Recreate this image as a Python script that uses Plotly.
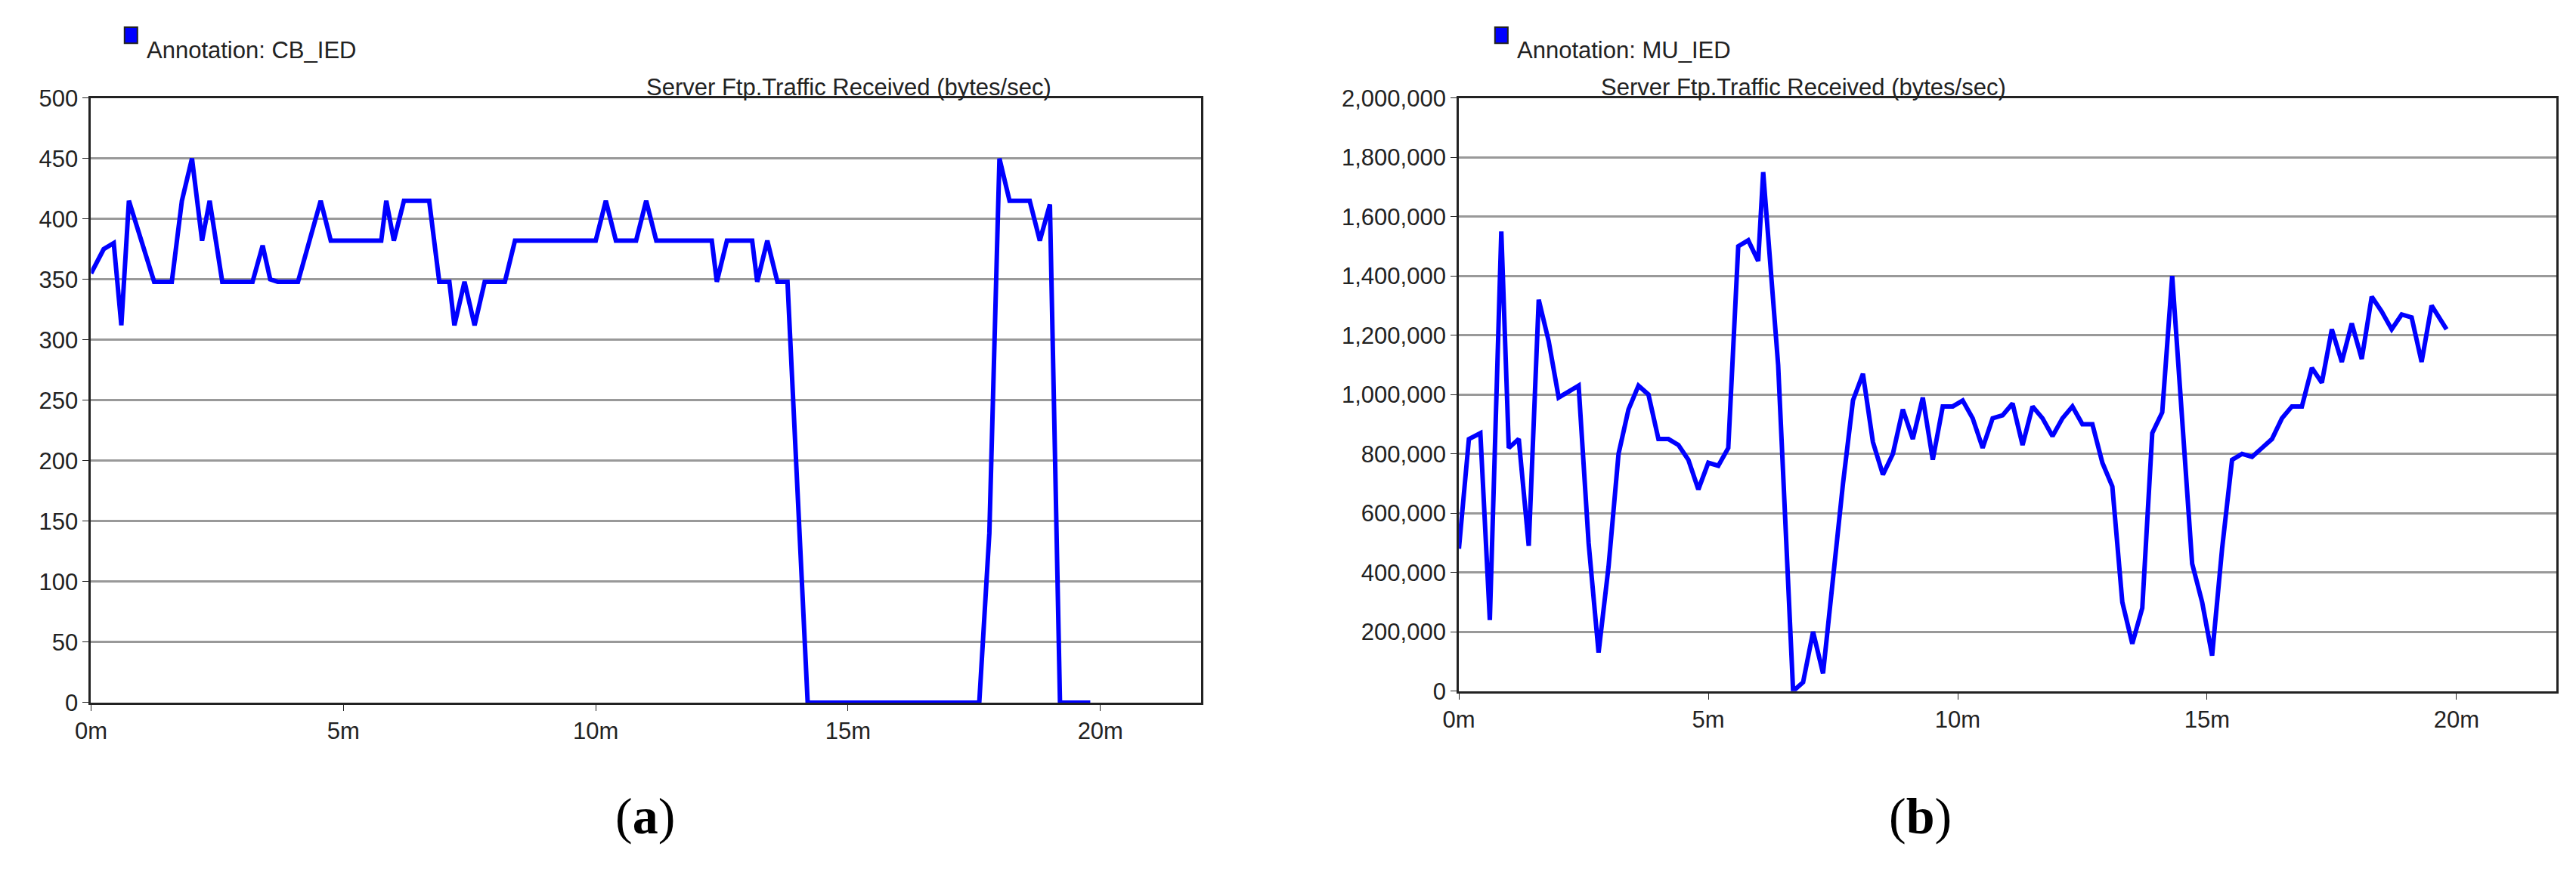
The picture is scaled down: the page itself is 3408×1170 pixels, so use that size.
import plotly.graph_objects as go
from plotly.subplots import make_subplots

# (a) CB_IED, time in minutes
cb_t = [0, 0.25, 0.45, 0.6, 0.75, 1.25, 1.6, 1.8, 2.0, 2.2, 2.35, 2.6, 3.2, 3.4, 3.55, 3.7, 4.1,
        4.55, 4.75, 5.75, 5.85, 6.0, 6.2, 6.7, 6.9, 7.1, 7.2, 7.4, 7.6, 7.8, 8.2, 8.4, 10.0,
        10.2, 10.4, 10.8, 11.0, 11.2, 12.3, 12.4, 12.6, 13.1, 13.2, 13.4, 13.6, 13.8, 14.2,
        17.6, 17.8, 18.0, 18.2, 18.6, 18.8, 19.0, 19.2, 19.8]
cb_v = [355, 375, 380, 312, 415, 348, 348, 415, 450, 382, 415, 348, 348, 378, 350, 348, 348,
        415, 382, 382, 415, 382, 415, 415, 348, 348, 312, 348, 312, 348, 348, 382, 382,
        415, 382, 382, 415, 382, 382, 348, 382, 382, 348, 382, 348, 348, 0,
        0, 140, 450, 415, 415, 382, 412, 0, 0]

# (b) MU_IED
mu_t = [0, 0.2, 0.43, 0.62, 0.85, 1.0, 1.2, 1.4, 1.6, 1.8, 2.0, 2.2, 2.4, 2.6, 2.8, 3.0, 3.2,
        3.4, 3.6, 3.8, 4.0, 4.2, 4.4, 4.6, 4.8, 5.0, 5.2, 5.4, 5.6, 5.8, 6.0, 6.1, 6.4, 6.7,
        6.9, 7.1, 7.3, 7.5, 7.7, 7.9, 8.1, 8.3, 8.5, 8.7, 8.9, 9.1, 9.3, 9.5, 9.7, 9.9, 10.1,
        10.3, 10.5, 10.7, 10.9, 11.1, 11.3, 11.5, 11.7, 11.9, 12.1, 12.3, 12.5, 12.7, 12.9,
        13.1, 13.3, 13.5, 13.7, 13.9, 14.1, 14.3, 14.5, 14.7, 14.9, 15.1, 15.3, 15.5, 15.7,
        15.9, 16.1, 16.3, 16.5, 16.7, 16.9, 17.1, 17.3, 17.5, 17.7, 17.9, 18.1, 18.3, 18.5,
        18.7, 18.9, 19.1, 19.3, 19.5, 19.8]
mu_v = [480, 850, 870, 240, 1550, 820, 850, 490, 1320, 1180, 990, 1010, 1030, 500, 130, 420, 800,
        950, 1030, 1000, 850, 850, 830, 780, 680, 770, 760, 820, 1500, 1520, 1450, 1750, 1100, 0,
        30, 200, 60, 380, 700, 980, 1070, 840, 730, 800, 950, 850, 990, 780, 960, 960, 980,
        920, 820, 920, 930, 970, 830, 960, 920, 860, 920, 960, 900, 900, 770,
        690, 300, 160, 280, 870, 940, 1400, 900, 430, 300, 120, 480, 780, 800,
        790, 820, 850, 920, 960, 960, 1090, 1040, 1220, 1110, 1240, 1120, 1330, 1280,
        1220, 1270, 1260, 1110, 1300, 1220]
mu_v = [v * 1000 for v in mu_v]

x_ticks = [0, 5, 10, 15, 20]
x_text = ["0m", "5m", "10m", "15m", "20m"]

fig = make_subplots(rows=1, cols=2)
fig.add_trace(go.Scatter(x=cb_t, y=cb_v, mode="lines", line=dict(color="#0000ff", width=6)), 1, 1)
fig.add_trace(go.Scatter(x=mu_t, y=mu_v, mode="lines", line=dict(color="#0000ff", width=6)), 1, 2)

font = dict(family="Liberation Sans, Arial", size=31, color="#222")
ax = dict(showline=True, mirror=True, linecolor="#222", linewidth=3, ticks="outside",
          ticklen=8, tickcolor="#222", tickfont=font, zeroline=False, automargin=False)
fig.update_xaxes(**ax, range=[0, 22], tickvals=x_ticks, ticktext=x_text, showgrid=False)
fig.update_yaxes(**ax, showgrid=True, gridcolor="#999", gridwidth=3)
fig.update_layout(
    xaxis=dict(domain=[0.033, 0.464]),
    xaxis2=dict(domain=[0.564, 0.990]),
    yaxis=dict(domain=[0.212, 0.896], range=[0, 500], dtick=50),
    yaxis2=dict(domain=[0.225, 0.896], range=[0, 2000000], dtick=200000, tickformat=",d"),
    width=3408, height=1170, showlegend=False,
    plot_bgcolor="white", paper_bgcolor="white",
    margin=dict(l=0, r=0, t=0, b=0),
)

for xc, name, title_x in [(0.046, "Annotation: CB_IED", 0.248), (0.578, "Annotation: MU_IED", 0.777)]:
    fig.add_shape(type="rect", xref="paper", yref="paper", x0=xc, x1=xc + 0.005,
                  y0=0.958, y1=0.976, fillcolor="#0000ff", line=dict(color="#222", width=2))
    fig.add_annotation(x=xc + 0.008, y=0.967, xref="paper", yref="paper", text=name,
                       showarrow=False, xanchor="left", font=font)
    fig.add_annotation(x=title_x, y=0.925, xref="paper", yref="paper",
                       text="Server Ftp.Traffic Received (bytes/sec)", showarrow=False, font=font)

cap_font = dict(family="Liberation Serif, Times New Roman", size=68, color="#000")
fig.add_annotation(x=0.236, y=0.05, xref="paper", yref="paper", text="(<b>a</b>)", showarrow=False, font=cap_font)
fig.add_annotation(x=0.756, y=0.05, xref="paper", yref="paper", text="(<b>b</b>)", showarrow=False, font=cap_font)

fig.write_html("out.html")
